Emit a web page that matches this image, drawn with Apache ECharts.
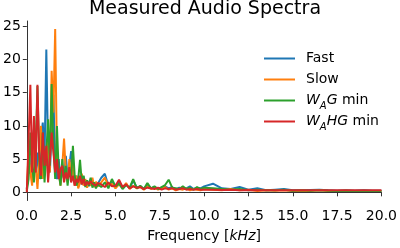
<!DOCTYPE html>
<html>
<head>
<meta charset="utf-8">
<script src="https://cdn.jsdelivr.net/npm/echarts@6/dist/echarts.min.js"></script>
<style>
  html, body { margin: 0; padding: 0; background: #fff; }
  #chart { width: 400px; height: 248px; }
</style>
</head>
<body>
<div id="chart"></div>
<script>
// frequency grid in kHz (fine at low end, coarser above)
const freq = [
    0, 0.1, 0.2, 0.3, 0.4, 0.5, 0.6, 0.7, 0.8, 0.9,
    1.0, 1.1, 1.2, 1.3, 1.4, 1.5, 1.6, 1.7, 1.8, 1.9,
    2.0, 2.1, 2.2, 2.3, 2.4, 2.5, 2.6, 2.7, 2.8, 2.9,
    3.0, 3.1, 3.2, 3.3, 3.4, 3.5, 3.6, 3.7, 3.8, 3.9,
    4.0,
    4.2, 4.4, 4.6, 4.8, 5.0, 5.2, 5.4, 5.6, 5.8, 6.0,
    6.2, 6.4, 6.6, 6.8, 7.0, 7.2, 7.4, 7.6, 7.8, 8.0,
    8.2, 8.4, 8.6, 8.8, 9.0, 9.2, 9.4, 9.6, 9.8, 10.0,
    10.5, 11.0, 11.5, 12.0, 12.5, 13.0, 13.5, 14.0, 14.5, 15.0,
    15.5, 16.0, 16.5, 17.0, 17.5, 18.0, 18.5, 19.0, 19.5, 20.0
];

const fast = [
    0.5, 4, 2.8, 7, 9.5, 3, 6, 2, 8, 10.5,
    5, 21.5, 6, 3, 9, 14.7, 4, 2, 5, 1.5,
    3.5, 2, 5.5, 2.5, 4, 6.2, 3, 1.5, 2.5, 0.8,
    2, 1.2, 2.4, 1, 1.8, 0.9, 2, 1.2, 1.5, 0.8,
    1.3,
    2.2, 2.8, 1, 1.5, 0.7, 1.6, 0.8, 1.2, 0.6, 1.8,
    0.7, 0.9, 0.5, 1.2, 0.6, 0.8, 0.5, 0.7, 0.9, 0.6,
    0.8, 0.4, 0.7, 0.5, 0.6, 0.9, 0.5, 0.7, 0.6, 0.9,
    1.3, 0.6, 0.5, 0.8, 0.4, 0.6, 0.3, 0.4, 0.5, 0.3,
    0.3, 0.35, 0.4, 0.3, 0.25, 0.3, 0.25, 0.3, 0.25, 0.25
];

const slow = [
    0.3, 6, 3, 1, 8, 4, 0.5, 5, 10, 2,
    6, 4, 8, 3, 18.3, 12, 24.6, 5, 3, 1,
    4, 8.1, 3, 1.5, 5, 2, 4.5, 1, 2.5, 0.6,
    1.5, 2.8, 1, 2, 0.7, 1.5, 1, 2.2, 0.8, 1.6,
    0.9,
    1.5, 2.2, 1, 1.3, 0.6, 1.2, 0.7, 1.4, 0.5, 1,
    0.6, 0.8, 0.4, 0.9, 0.5, 0.7, 0.4, 0.6, 0.8, 0.4,
    0.6, 0.3, 0.5, 0.4, 0.6, 0.3, 0.5, 0.4, 0.3, 0.5,
    0.4, 0.3, 0.5, 0.3, 0.4, 0.2, 0.3, 0.25, 0.3, 0.2,
    0.25, 0.2, 0.3, 0.2, 0.2, 0.25, 0.2, 0.2, 0.2, 0.2
];

const wagMin = [
    0.2, 2, 9, 4, 1.5, 7, 16, 5, 2, 9,
    1.5, 6, 11, 4, 16.3, 7, 2, 10, 3, 1,
    5, 2, 4, 1, 3.5, 2, 7, 2.5, 1, 2,
    4.9, 1.5, 2.5, 0.8, 1.8, 1, 2.2, 0.7, 1.5, 0.6,
    1.2,
    0.8, 1.5, 0.6, 2, 0.9, 1.3, 0.5, 1.1, 0.7, 2,
    0.6, 1, 0.5, 1.4, 0.6, 0.9, 0.5, 0.8, 1.1, 1.9,
    0.7, 0.6, 0.5, 0.9, 0.5, 0.7, 0.4, 0.8, 0.5, 0.7,
    0.6, 0.5, 0.4, 0.5, 0.3, 0.4, 0.3, 0.3, 0.4, 0.25,
    0.3, 0.25, 0.3, 0.25, 0.2, 0.25, 0.2, 0.25, 0.2, 0.2
];

const waghMin = [
    0, 8, 16.2, 3, 11.5, 3, 16.2, 6, 2.5, 9,
    4, 7, 1.5, 5, 9, 6, 3, 5, 2, 3.5,
    4, 1.5, 3, 2, 3.8, 1.5, 2.5, 1, 2, 1.5,
    2.5, 1.2, 2, 1, 1.6, 1.2, 1.7, 1.3, 1.5, 1,
    1.4,
    1.2, 0.8, 1.5, 0.9, 1.0, 1.9, 0.8, 1.2, 0.6, 0.9,
    0.7, 0.8, 0.5, 0.7, 0.6, 0.5, 0.7, 0.4, 0.6, 0.5,
    0.6, 0.4, 0.5, 0.6, 0.4, 0.5, 0.4, 0.5, 0.4, 0.4,
    0.4, 0.35, 0.4, 0.3, 0.35, 0.3, 0.3, 0.3, 0.3, 0.3,
    0.3, 0.3, 0.3, 0.3, 0.3, 0.3, 0.3, 0.3, 0.3, 0.3
];

const seriesNames = ["Fast", "Slow", "W_AG min", "W_AHG min"];
const xTicks = [0, 2.5, 5, 7.5, 10, 12.5, 15, 17.5, 20];
const yTicks = [0, 5, 10, 15, 20, 25];

const FONT = "DejaVu Sans";
const colors = ["#1f77b4", "#ff7f0e", "#2ca02c", "#d62728"];

function pairs (values) {
    return freq.map((f, i) => [f, values[i]]);
}

function legendLabel (name) {
    if (name === "W_AG min") return "{i|W}{s|A}{i|G}{n| min}";
    if (name === "W_AHG min") return "{i|W}{s|A}{i|HG}{n| min}";
    return "{n|" + name + "}";
}

const rich = {
    n: { fontFamily: FONT, fontSize: 14, color: "#000", lineHeight: 21, verticalAlign: "middle" },
    i: { fontFamily: FONT, fontSize: 14, fontStyle: "italic", color: "#000", lineHeight: 21, verticalAlign: "middle" },
    s: { fontFamily: FONT, fontSize: 10, fontStyle: "italic", color: "#000", lineHeight: 13, verticalAlign: "bottom" }
};

const chart = echarts.init(document.getElementById("chart"), null, { renderer: "canvas" });
const axisColor = "#333";

const option = {
    animation: false,
    color: colors,
    title: {
        text: "Measured Audio Spectra",
        left: 205,
        top: 0,
        padding: 0,
        textAlign: "center",
        textStyle: { fontFamily: FONT, fontSize: 19, fontWeight: "normal", color: "#000" }
    },
    grid: { left: 24, right: 15, top: 21, bottom: 40 },
    legend: {
        orient: "vertical",
        left: 264,
        top: 48,
        padding: 0,
        itemGap: 0,
        itemWidth: 31,
        itemHeight: 2,
        icon: "rect",
        data: seriesNames,
        formatter: legendLabel,
        textStyle: { fontFamily: FONT, fontSize: 14, color: "#000", lineHeight: 21, rich: rich, padding: [0, 0, 0, 6] }
    },
    xAxis: {
        type: "value",
        min: 0,
        max: 20,
        name: "{n|Frequency [}{i|kHz}{n|]}",
        nameLocation: "middle",
        nameGap: 25,
        nameTextStyle: { rich: rich },
        splitLine: { show: false },
        axisLine: { lineStyle: { color: axisColor, width: 1 } },
        axisTick: { customValues: xTicks, length: 4, lineStyle: { color: axisColor } },
        axisLabel: {
            customValues: xTicks,
            margin: 9,
            fontFamily: FONT,
            fontSize: 14,
            color: "#000",
            formatter: v => v.toFixed(1)
        }
    },
    yAxis: {
        type: "value",
        min: -1.23,
        max: 25.8,
        splitLine: { show: false },
        axisLine: { show: true, lineStyle: { color: axisColor, width: 1 } },
        axisTick: { show: true, customValues: yTicks, length: 4, lineStyle: { color: axisColor } },
        axisLabel: {
            customValues: yTicks,
            margin: 6,
            fontFamily: FONT,
            fontSize: 14,
            color: "#000"
        }
    },
    series: [fast, slow, wagMin, waghMin].map((vals, k) => ({
        name: seriesNames[k],
        type: "line",
        data: pairs(vals),
        showSymbol: false,
        symbol: "none",
        lineStyle: { width: 2, color: colors[k] },
        itemStyle: { color: colors[k] }
    }))
};

chart.setOption(option);
</script>
</body>
</html>
